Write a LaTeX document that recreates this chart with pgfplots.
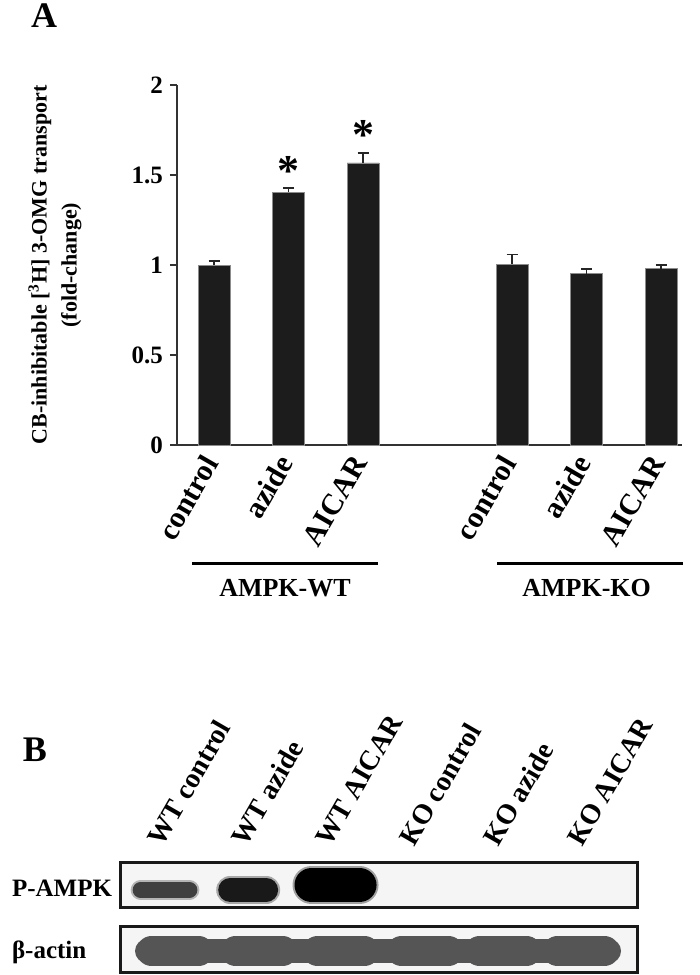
\documentclass[border=0pt]{standalone}
\usepackage{fontspec}
\setmainfont{Liberation Serif}
\usepackage{pgfplots}
\pgfplotsset{compat=1.18}

\definecolor{barfill}{HTML}{1C1C1C}
\definecolor{blotbg}{HTML}{F5F5F5}
\definecolor{actin}{HTML}{555555}

\begin{document}
\begin{tikzpicture}
\path[use as bounding box] (0,0) rectangle (350pt,-487.5pt);

% panel A
\node[font=\fontsize{18}{18}\selectfont\bfseries] at (22pt,-8pt) {A};

\begin{axis}[
  at={(88.5pt,-222.5pt)}, anchor=south west,
  scale only axis, width=252.5pt, height=180pt,
  xmin=-0.5, xmax=6.28, ymin=0, ymax=2,
  axis x line=bottom, axis y line=left,
  axis line style={-, line width=0.7pt, draw=black!80},
  ybar, bar width=16pt,
  xtick={0,1,2,4,5,6},
  xticklabels={control,azide,AICAR,control,azide,AICAR},
  xtick style={draw=none},
  xticklabel style={rotate=60, anchor=east, font=\fontsize{15}{15}\selectfont\bfseries},
  ytick={0,0.5,1,1.5,2},
  yticklabels={0,0.5,1,1.5,2},
  yticklabel style={font=\fontsize{12.5}{12.5}\selectfont\bfseries},
  ytick style={line width=0.7pt, draw=black!80},
  tick align=outside, major tick length=3.5pt,
  ylabel={CB-inhibitable [\textsuperscript{3}H] 3-OMG transport\\(fold-change)},
  ylabel style={at={(axis description cs:-0.2416,0.5)}, anchor=center, align=center,
    font=\fontsize{11}{15}\selectfont\bfseries},
  clip=false,
]
\addplot[fill=barfill, draw=black!45, line width=0.3pt,
  error bars/.cd, y dir=plus, y explicit,
  error bar style={line width=0.75pt, draw=black!85},
  error mark options={rotate=90, mark size=2.75pt, line width=0.75pt, draw=black!85}]
  table[x=x, y=y, y error=e] {
  x y     e
  0 1.000 0.022
  1 1.405 0.022
  2 1.567 0.055
  4 1.004 0.055
  5 0.952 0.026
  6 0.980 0.020
  };

% significance stars
\node[font=\fontsize{22}{22}\selectfont\bfseries, anchor=base] at (axis cs:1,1.444) {*};
\node[font=\fontsize{22}{22}\selectfont\bfseries, anchor=base] at (axis cs:2,1.639) {*};

% group brackets
\draw[line width=1.5pt] (axis cs:-0.295,-0.656) -- (axis cs:2.20,-0.656);
\draw[line width=1.5pt] (axis cs:3.80,-0.656) -- (axis cs:6.295,-0.656);
\node[font=\fontsize{13}{13}\selectfont\bfseries] at (axis cs:0.95,-0.794) {AMPK-WT};
\node[font=\fontsize{13}{13}\selectfont\bfseries] at (axis cs:5.0,-0.794) {AMPK-KO};
\end{axis}

% panel B
\node[font=\fontsize{18}{18}\selectfont\bfseries] at (17.5pt,-375pt) {B};

\node[anchor=west, font=\fontsize{12.5}{12.5}\selectfont\bfseries] at (2.5pt,-444pt) {P-AMPK};
\node[anchor=west, font=\fontsize{12.5}{12.5}\selectfont\bfseries] at (2.5pt,-476pt) {β-actin};

% P-AMPK blot
\begin{axis}[
  at={(60.25pt,-453.75pt)}, anchor=south west,
  scale only axis, width=258.5pt, height=22.5pt,
  xmin=0.47, xmax=6.625, ymin=0, ymax=1,
  xtick=\empty, ytick=\empty,
  axis line style={line width=1.5pt, draw=black!90},
  axis background/.style={fill=blotbg},
  clip=false,
]
% WT control
\addplot[no marks, line cap=round, line width=10pt, draw=black!75, opacity=0.35] coordinates {(0.71,0.39) (1.29,0.39)};
\addplot[no marks, line cap=round, line width=8pt, draw=black!75] coordinates {(0.71,0.39) (1.29,0.39)};
% WT azide
\addplot[no marks, line cap=round, line width=14pt, draw=black!90, opacity=0.35] coordinates {(1.776,0.39) (2.204,0.39)};
\addplot[no marks, line cap=round, line width=12pt, draw=black!90] coordinates {(1.776,0.39) (2.204,0.39)};
% WT AICAR
\addplot[no marks, line cap=round, line width=19pt, draw=black, opacity=0.35] coordinates {(2.744,0.5) (3.316,0.5)};
\addplot[no marks, line cap=round, line width=17pt, draw=black] coordinates {(2.744,0.5) (3.316,0.5)};

% lane labels
\node[xshift=-1pt, yshift=7pt, rotate=60, anchor=south west, inner sep=0pt, font=\fontsize{14}{14}\selectfont\bfseries] at (axis cs:1,1) {WT control};
\node[xshift=-1pt, yshift=7pt, rotate=60, anchor=south west, inner sep=0pt, font=\fontsize{14}{14}\selectfont\bfseries] at (axis cs:2,1) {WT azide};
\node[xshift=-1pt, yshift=7pt, rotate=60, anchor=south west, inner sep=0pt, font=\fontsize{14}{14}\selectfont\bfseries] at (axis cs:3,1) {WT AICAR};
\node[xshift=-1pt, yshift=7pt, rotate=60, anchor=south west, inner sep=0pt, font=\fontsize{14}{14}\selectfont\bfseries] at (axis cs:4,1) {KO control};
\node[xshift=-1pt, yshift=7pt, rotate=60, anchor=south west, inner sep=0pt, font=\fontsize{14}{14}\selectfont\bfseries] at (axis cs:5,1) {KO azide};
\node[xshift=-1pt, yshift=7pt, rotate=60, anchor=south west, inner sep=0pt, font=\fontsize{14}{14}\selectfont\bfseries] at (axis cs:6,1) {KO AICAR};
\end{axis}

% beta-actin blot
\begin{axis}[
  at={(60.25pt,-486.25pt)}, anchor=south west,
  scale only axis, width=258.5pt, height=23pt,
  xmin=0.47, xmax=6.625, ymin=0, ymax=1,
  xtick=\empty, ytick=\empty,
  axis line style={line width=1.5pt, draw=black!90},
  axis background/.style={fill=blotbg},
  clip=false,
]
\addplot[no marks, line cap=round, line width=12pt, draw=actin] coordinates {(0.786,0.467) (6.286,0.467)};
\addplot[no marks, line cap=round, line width=15pt, draw=actin] coordinates {(0.84,0.467) (1.40,0.467)};
\addplot[no marks, line cap=round, line width=15pt, draw=actin] coordinates {(1.84,0.467) (2.40,0.467)};
\addplot[no marks, line cap=round, line width=15pt, draw=actin] coordinates {(2.815,0.467) (3.375,0.467)};
\addplot[no marks, line cap=round, line width=15pt, draw=actin] coordinates {(3.815,0.467) (4.375,0.467)};
\addplot[no marks, line cap=round, line width=15pt, draw=actin] coordinates {(4.744,0.467) (5.304,0.467)};
\addplot[no marks, line cap=round, line width=15pt, draw=actin] coordinates {(5.672,0.467) (6.232,0.467)};
\end{axis}
\end{tikzpicture}
\end{document}
